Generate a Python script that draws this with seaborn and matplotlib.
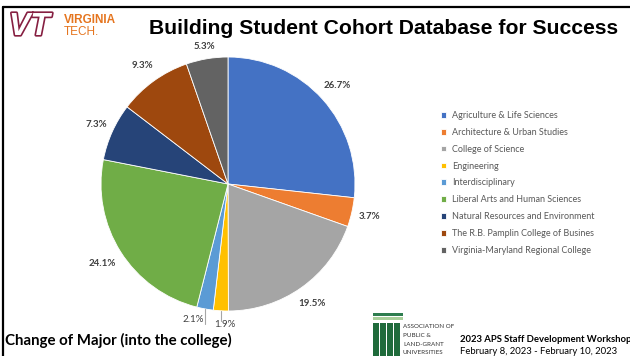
import matplotlib
matplotlib.use("Agg")
import matplotlib.pyplot as plt
import matplotlib.patheffects as pe
from matplotlib.lines import Line2D
from matplotlib.patches import Rectangle
import numpy as np
import seaborn as sns

# ---- data ----
colleges = [
    "Agriculture & Life Sciences",
    "Architecture & Urban Studies",
    "College of Science",
    "Engineering",
    "Interdisciplinary",
    "Liberal Arts and Human Sciences",
    "Natural Resources and Environment",
    "The R.B. Pamplin College of Busines",
    "Virginia-Maryland Regional College",
]
shares = [26.7, 3.7, 19.5, 1.9, 2.1, 24.1, 7.3, 9.3, 5.3]
slice_colors = ["#4472C4", "#ED7D31", "#A5A5A5", "#FFC000", "#5B9BD5",
                "#70AD47", "#264478", "#9E480E", "#636363"]
title = "Building Student Cohort Database for Success"
subtitle = "Change of Major (into the college)"
footer_1 = "2023 APS Staff Development Workshop"
footer_2 = "February 8, 2023 - February 10, 2023"

sns.set_theme(style="white")
plt.rcParams["font.family"] = ["Lato", "DejaVu Sans"]

W, H = 630, 356
fig = plt.figure(figsize=(W / 100, H / 100), dpi=100)
fig.patch.set_facecolor("white")

def fx(px):
    return px / W

def fy(py):
    return 1 - py / H

# ---- pie ----
cx, cy, r = 228, 184, 127
ax = fig.add_axes([fx(cx - r), fy(cy + r), 2 * r / W, 2 * r / H])
palette = sns.color_palette(slice_colors)
small = {3, 4}
labels_txt = [f"{v:.1f}%" for v in shares]
label_dist = [1.16, 1.14, 1.15, 1.15, 1.15, 1.17, 1.135, 1.15, 1.10]
wedges, _ = ax.pie(shares, colors=palette, startangle=90, counterclock=False,
                   radius=1.0, wedgeprops=dict(edgecolor="white", linewidth=0.6))
ax.set_xlim(-1, 1)
ax.set_ylim(-1, 1)
ax.set_aspect("equal")
ax.axis("off")

lab_kw = dict(fontsize=7, fontweight="bold", color="#404040")
small_kw = dict(fontsize=7, color="#404040")
cum = 0.0
tot = sum(shares)
for i, v in enumerate(shares):
    mid = 90 - (cum + v / 2) / tot * 360
    cum += v
    a = np.deg2rad(mid)
    if i in small:
        x0, y0 = np.cos(a), np.sin(a)
        if i == 3:
            ax.plot([x0, x0], [y0, -1.08], color="#A6A6A6", lw=0.8, clip_on=False)
            ax.text(x0 + 0.035, -1.11, labels_txt[i], ha="center", va="center", **small_kw)
        else:
            ax.plot([x0, x0], [y0, -1.105], color="#A6A6A6", lw=0.8, clip_on=False)
            ax.text(x0 - 0.01, -1.065, labels_txt[i], ha="right", va="center", **small_kw)
    else:
        d = label_dist[i]
        ax.text(d * np.cos(a), d * np.sin(a), labels_txt[i], ha="center",
                va="center", **lab_kw)

# ---- legend ----
fig.legend(wedges, colleges, loc="upper left", bbox_to_anchor=(fx(441), fy(111)),
           frameon=False, fontsize=6.5, handlelength=0.6, handleheight=0.6,
           handletextpad=0.6, labelspacing=0.87, borderaxespad=0, borderpad=0,
           labelcolor="#595959")

# ---- title & logos ----
fig.text(fx(384), fy(29), title, ha="center", va="center", fontsize=15.2,
         fontweight="bold", color="black", family=["Liberation Sans", "DejaVu Sans"])
fig.text(fx(9), fy(27), "VT", ha="left", va="center", fontsize=23,
         fontweight="bold", style="italic", color="white",
         family=["Liberation Sans", "DejaVu Sans"],
         path_effects=[pe.withStroke(linewidth=2.4, foreground="#861F41")])
fig.text(fx(64), fy(20), "VIRGINIA", ha="left", va="center", fontsize=8.5,
         color="#E5751F", fontweight="semibold", family=["Liberation Sans", "DejaVu Sans"])
fig.text(fx(64), fy(32), "TECH.", ha="left", va="center", fontsize=8.5,
         color="#E5751F", family=["Liberation Sans", "DejaVu Sans"])

# ---- footer ----
fig.text(fx(5), fy(340), subtitle, ha="left", va="center", fontsize=10.8,
         fontweight="bold", color="black")
fig.text(fx(460), fy(340), footer_1, ha="left", va="center", fontsize=6.8,
         fontweight="bold", color="black")
fig.text(fx(460), fy(351), footer_2, ha="left", va="center", fontsize=6.8,
         color="black")

# APLU logo
fig.add_artist(Rectangle((fx(373), fy(316)), 30 / W, 3 / H, transform=fig.transFigure,
                         color="#2E7D4F", lw=0))
fig.add_artist(Rectangle((fx(373), fy(320)), 30 / W, 3 / H, transform=fig.transFigure,
                         color="#A9CF9A", lw=0))
for k in range(4):
    fig.add_artist(Rectangle((fx(373 + k * 7), fy(356)), 5.5 / W, 33 / H,
                             transform=fig.transFigure, color="#1F6B3B", lw=0))
for j, t in enumerate(["ASSOCIATION OF", "PUBLIC &", "LAND-GRANT", "UNIVERSITIES"]):
    fig.text(fx(403), fy(327 + j * 8.5), t, ha="left", va="center", fontsize=4.5,
             color="#333333")

# ---- border ----
fig.add_artist(Line2D([fx(3), 1], [fy(7), fy(7)], color="black", lw=1.6,
                      transform=fig.transFigure))
fig.add_artist(Line2D([fx(3), fx(3)], [fy(7), 0], color="black", lw=1.6,
                      transform=fig.transFigure))

fig.savefig("out.png", dpi=100, facecolor="white")
